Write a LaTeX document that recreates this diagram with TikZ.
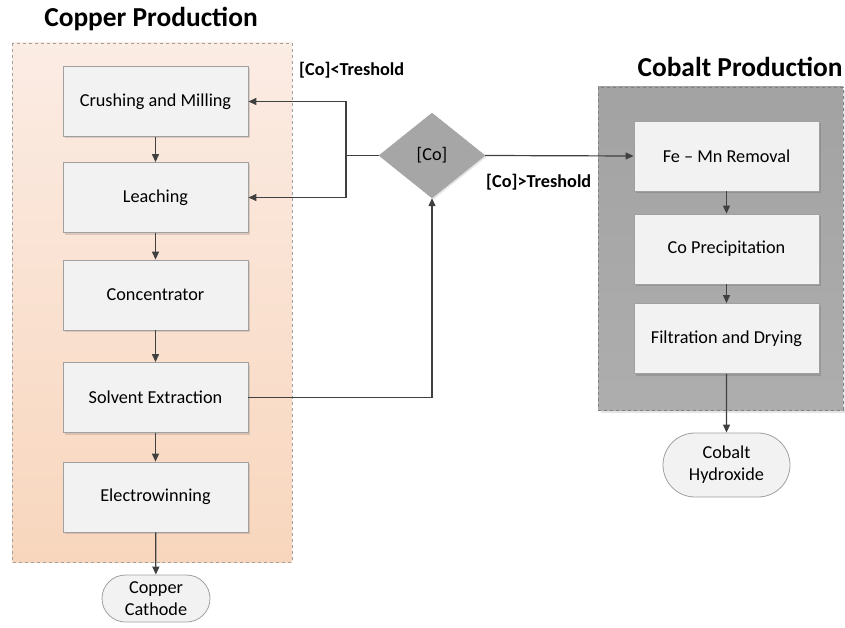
\documentclass[tikz,border=0pt]{standalone}
\usepackage{fontspec}
\setmainfont{Carlito}
\usetikzlibrary{shapes.geometric,shapes.misc,arrows.meta,calc,shadows}
\definecolor{boxfill}{HTML}{F2F2F2}
\definecolor{boxline}{HTML}{A0A0A0}
\definecolor{linec}{HTML}{404040}
\definecolor{peachtop}{HTML}{FBECE4}
\definecolor{peachbot}{HTML}{F8D6BD}
\definecolor{cobgray}{HTML}{ABABAB}
\definecolor{diamfill}{HTML}{A6A6A6}
\tikzset{
  stepbox/.style={draw=boxline, fill=boxfill, minimum width=185bp, minimum height=70bp, font=\fontsize{18.3}{21}\selectfont, inner sep=0pt, line width=0.8pt,
    drop shadow={shadow xshift=2bp, shadow yshift=-2bp, fill=black, opacity=0.12}},
  term/.style={draw=boxline, fill=boxfill, rounded rectangle, align=center, font=\fontsize{18.3}{22}\selectfont, inner sep=0pt, line width=0.8pt},
  conn/.style={draw=linec, line width=1.2pt, -{Triangle[length=8bp,width=7bp]}},
  plain/.style={draw=linec, line width=1.2pt},
  lbl/.style={font=\bfseries\fontsize{18.3}{21}\selectfont, inner sep=0pt},
  ttl/.style={font=\bfseries\fontsize{27.5}{31}\selectfont, inner sep=0pt}
}
\begin{document}
\begin{tikzpicture}[x=1bp,y=-1bp]
\useasboundingbox (0,0) rectangle (845,628);
% containers
\shade[top color=peachtop, bottom color=peachbot] (12,43) rectangle (292,562);
\draw[draw=boxline, dashed, line width=0.7pt] (12,43) rectangle (292,562);
\node[ttl] (ttlcu) at (151,19) {Copper Production};
\fill[black, opacity=0.10] (601,90) rectangle (845,413);
\shade[top color=cobgray!95!black, bottom color=cobgray!97!white] (598,87) rectangle (843,410);
\draw[draw=boxline!80!black, dashed, line width=0.7pt] (598,87) rectangle (843,410);
\node[ttl] (ttlco) at (740,67) {Cobalt Production};
% copper boxes
\node[stepbox] (crush) at (155.5,101.5) {Crushing and Milling};
\node[stepbox] (leach) at (155.5,197.5) {Leaching};
\node[stepbox] (conc) at (155.5,295) {Concentrator};
\node[stepbox] (solv) at (155.5,397.5) {Solvent Extraction};
\node[stepbox] (elec) at (155.5,497) {Electrowinning};
\node[term, minimum width=108bp, minimum height=47bp] (cath) at (156,598.5) {Copper\\Cathode};
% cobalt boxes
\node[stepbox] (femn) at (726.5,156) {Fe – Mn Removal};
\node[stepbox] (coppt) at (726.5,249) {Co Precipitation};
\node[stepbox] (filt) at (726.5,338.5) {Filtration and Drying};
\node[term, minimum width=127bp, minimum height=64bp] (hydr) at (726.5,465) {Cobalt\\Hydroxide};
% decision
\node[diamond, draw=diamfill, fill=diamfill, minimum width=106bp, minimum height=85bp, inner sep=0pt, aspect=1.25, font=\fontsize{18.3}{21}\selectfont,
  drop shadow={shadow xshift=1.5bp, shadow yshift=-1.5bp, fill=black, opacity=0.10}] (co) at (432,155.5) {[Co]};
\coordinate (split) at (346,155.5);
\coordinate (jtop) at (346,101.5);
\coordinate (jbot) at (346,197.5);
\coordinate (sturn) at (432,397.5);
% connectors
\draw[conn] (crush) -- (leach);
\draw[conn] (leach) -- (conc);
\draw[conn] (conc) -- (solv);
\draw[conn] (solv) -- (elec);
\draw[conn] (elec) -- (cath);
\draw[plain] (co.west) -- (split);
\draw[conn] (split) -- (jtop) -- (crush.east);
\draw[conn] (split) -- (jbot) -- (leach.east);
\draw[conn] (solv.east) -- (sturn) -- (co.south);
\draw[conn] (co.east) -- (femn.west);
\draw[conn] (femn) -- (coppt);
\draw[conn] (coppt) -- (filt);
\draw[conn] (filt) -- (hydr);
% labels
\node[lbl, anchor=west] (lt) at (299,70) {[Co]<Treshold};
\node[lbl, anchor=west] (gt) at (486,182) {[Co]>Treshold};
\end{tikzpicture}
\end{document}
